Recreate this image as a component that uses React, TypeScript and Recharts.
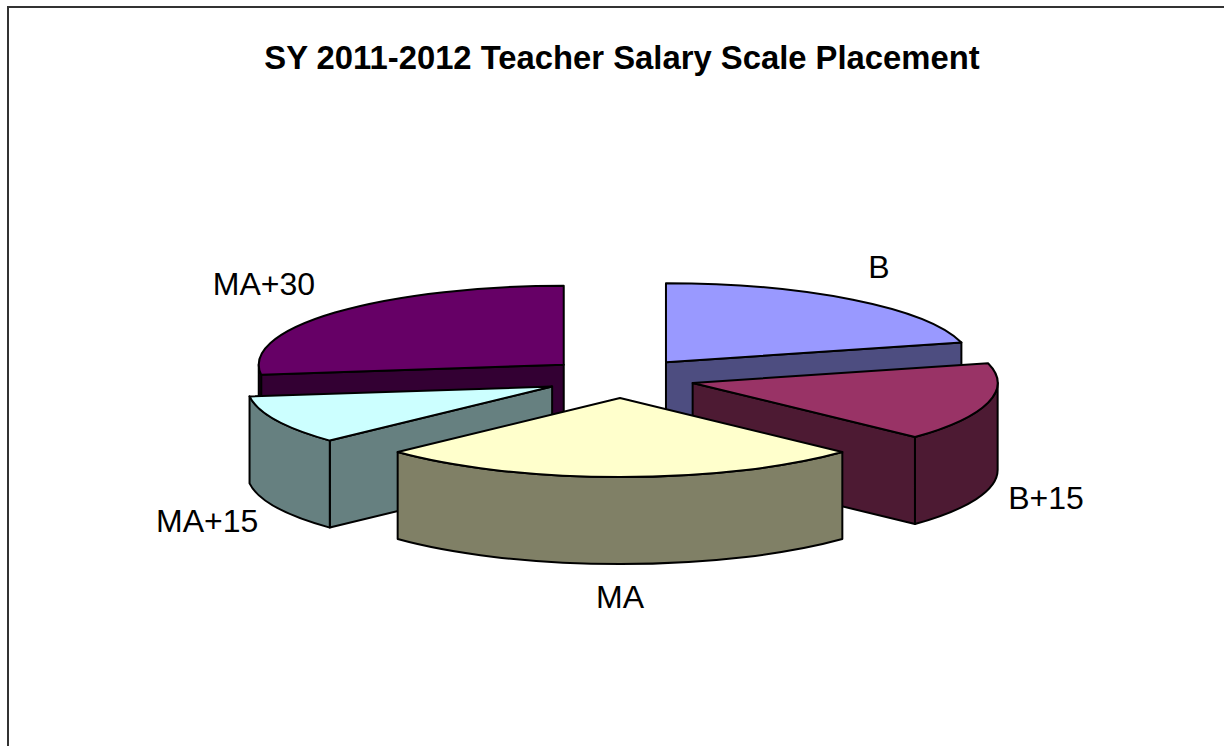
import { PieChart, Pie } from 'recharts'

const sliceNames = ['B', 'B+15', 'MA', 'MA+15', 'MA+30']
const sliceShares = [21, 16, 26, 10, 27]
const topColors = ['#9999FF', '#993366', '#FFFFCC', '#CCFFFF', '#660066']
const wallColors = ['#4D4D80', '#4D1A33', '#808066', '#668080', '#330033']

// back slices have to be painted first
const paintOrder = ['MA+30', 'B', 'MA+15', 'B+15', 'MA']

const chartData = sliceNames.map((name, i) => ({
  name,
  value: sliceShares[i],
  fill: topColors[i],
  wall: wallColors[i]
}))

const WIDTH = 1224
const HEIGHT = 746
const RX = 305
const SQUASH = 0.259
const DEPTH = 87
const EXPLODE_X = 75
const EXPLODE_Y = 20

// label nudge from the rim point of each slice, by hand
const labelNudge: Record<string, [number, number]> = {
  B: [26, -33],
  'B+15': [58, 95],
  MA: [0, 120],
  'MA+15': [-69, 101],
  'MA+30': [-71, -29]
}

const rad = (deg: number) => (deg * Math.PI) / 180

function SliceShape(props: any, only: string) {
  const { cx, cy, startAngle, endAngle, midAngle, name, fill, wall } = props
  if (name !== only) return <g />

  const ry = RX * SQUASH
  // pie angles run counter clockwise from 3 o'clock, here clockwise from 12
  const from = 90 - startAngle
  const to = 90 - endAngle
  const mid = 90 - midAngle
  const ax = cx + EXPLODE_X * Math.sin(rad(mid))
  const ay = cy - EXPLODE_Y * Math.cos(rad(mid))
  const px = (t: number) => ax + RX * Math.sin(rad(t))
  const py = (t: number) => ay - ry * Math.cos(rad(t))
  const arc = (a: number, b: number, dy: number, sweep: number) =>
    `A${RX} ${ry} 0 ${Math.abs(b - a) > 180 ? 1 : 0} ${sweep} ${px(b)} ${py(b) + dy}`

  const radialWall = (t: number) =>
    `M${ax} ${ay}L${px(t)} ${py(t)}L${px(t)} ${py(t) + DEPTH}L${ax} ${ay + DEPTH}Z`

  // only the cut faces turned towards the viewer get drawn
  const showFrom = Math.sin(rad(from)) < -0.001
  const showTo = Math.sin(rad(to)) > 0.001
  const wallFrom = Math.max(from, 90)
  const wallTo = Math.min(to, 270)
  const common = { stroke: '#000', strokeWidth: 2, strokeLinejoin: 'round' as const }

  return (
    <g>
      {showFrom && <path d={radialWall(from)} fill={wall} {...common} />}
      {showTo && <path d={radialWall(to)} fill={wall} {...common} />}
      {wallTo > wallFrom && (
        <path
          d={`M${px(wallFrom)} ${py(wallFrom)}${arc(wallFrom, wallTo, 0, 1)}L${px(wallTo)} ${py(wallTo) + DEPTH}${arc(wallTo, wallFrom, DEPTH, 0)}Z`}
          fill={wall}
          {...common}
        />
      )}
      <path
        d={`M${ax} ${ay}L${px(from)} ${py(from)}${arc(from, to, 0, 1)}Z`}
        fill={fill}
        {...common}
      />
    </g>
  )
}

function SliceLabel(props: any) {
  const { cx, cy, midAngle, name } = props
  const mid = 90 - midAngle
  const x = cx + (RX + EXPLODE_X) * Math.sin(rad(mid)) + labelNudge[name][0]
  const y = cy - (RX * SQUASH + EXPLODE_Y) * Math.cos(rad(mid)) + labelNudge[name][1]
  return (
    <text
      x={x}
      y={y}
      textAnchor="middle"
      dominantBaseline="central"
      fontFamily="'Liberation Sans', Arial, sans-serif"
      fontSize={32}
      fill="#000"
    >
      {name}
    </text>
  )
}

export default function App() {
  return (
    <div style={{ position: 'absolute', left: 0, top: 0, width: WIDTH, height: HEIGHT, background: '#fff', overflow: 'hidden' }}>
      <div style={{ position: 'absolute', left: 7, top: 6, right: -4, bottom: -4, borderLeft: '2px solid #333', borderTop: '2px solid #333' }} />
      <div style={{ position: 'absolute', left: 0, top: 0 }}>
        <PieChart width={WIDTH} height={HEIGHT} margin={{ top: 0, right: 0, bottom: 0, left: 0 }}>
          {paintOrder.map((name, i) => (
            <Pie
              key={name}
              data={chartData}
              dataKey="value"
              nameKey="name"
              cx={620}
              cy={378}
              outerRadius={RX}
              startAngle={90}
              endAngle={-270}
              stroke="#000"
              isAnimationActive={false}
              labelLine={false}
              label={i === paintOrder.length - 1 ? SliceLabel : false}
              shape={(p: any) => SliceShape(p, name)}
            />
          ))}
          <text
            x={622}
            y={57}
            textAnchor="middle"
            dominantBaseline="central"
            fontFamily="'Liberation Sans', Arial, sans-serif"
            fontWeight="bold"
            fontSize={32.8}
            fill="#000"
          >
            SY 2011-2012 Teacher Salary Scale Placement
          </text>
        </PieChart>
      </div>
    </div>
  )
}
